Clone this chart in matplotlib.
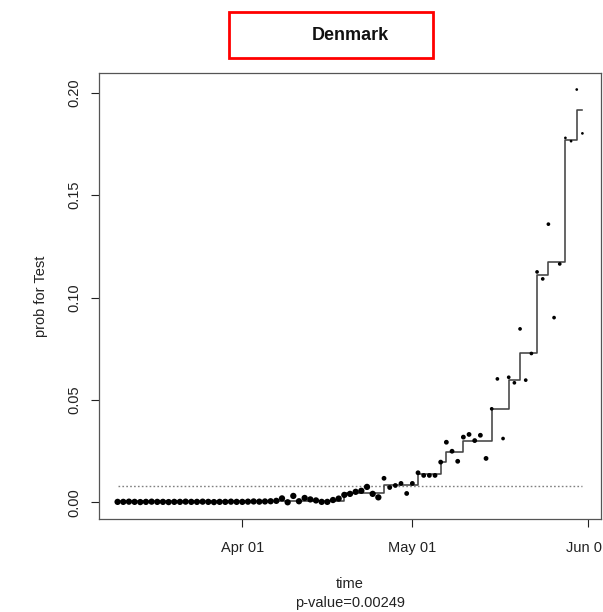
import numpy as np
import matplotlib
matplotlib.use('Agg')
import matplotlib.dates as mdates
from matplotlib import pyplot as plt
from matplotlib.patches import Rectangle

plt.rcParams['font.family'] = ['Liberation Sans', 'DejaVu Sans']

# daily observations, 2020-03-10 .. 2020-05-31
start_date = '2020-03-10'
prob = [
    0.0003, 0.0003, 0.0004, 0.0003, 0.0002, 0.0003, 0.0004, 0.0003, 0.0003, 0.0002,
    0.0003, 0.0003, 0.0004, 0.0003, 0.0003, 0.0004, 0.0003, 0.0002, 0.0003, 0.0003,
    0.0004, 0.0003, 0.0003, 0.0004, 0.0005, 0.0004, 0.0005, 0.0006, 0.0008, 0.0020,
    0.0001, 0.0032, 0.0006, 0.0022, 0.0015, 0.0010, 0.0003, 0.0003, 0.0012, 0.0019,
    0.0037, 0.0042, 0.0052, 0.0057, 0.0076, 0.0042, 0.0025, 0.0118, 0.0073, 0.0083,
    0.0093, 0.0044, 0.0093, 0.0145, 0.0132, 0.0132, 0.0132, 0.0197, 0.0294, 0.0250,
    0.0201, 0.0319, 0.0332, 0.0302, 0.0328, 0.0215, 0.0457, 0.0603, 0.0312, 0.0611,
    0.0584, 0.0847, 0.0597, 0.0727, 0.1125, 0.1091, 0.1358, 0.0902, 0.1164, 0.1779,
    0.1763, 0.2015, 0.1801,
]

# fitted monotone step curve: day index where each level starts, and the level
step_start = [0, 40, 47, 53, 57, 58, 61, 66, 69, 71, 74, 76, 79, 81]
step_level = [0.0008, 0.0047, 0.0086, 0.0137, 0.0197, 0.0245, 0.0300, 0.0457,
              0.0596, 0.0730, 0.1109, 0.1175, 0.1767, 0.1915]

baseline = 0.0078
p_value = '0.00249'

n = len(prob)
dates = np.arange(np.datetime64(start_date), np.datetime64(start_date) + n)
lengths = np.diff(step_start + [n])
fitted = np.repeat(step_level, lengths)

# point size shrinks over time (pixels diameter)
idx = np.arange(n)
sizes_px = np.where(idx < 47, 6.3, np.where(idx < 66, 4.8, np.where(idx < 79, 3.7, 2.7)))
s = (sizes_px * 0.72) ** 2

fig = plt.figure(figsize=(6.03, 6.12), dpi=100)
ax = fig.add_axes([99 / 603, 93 / 612, 502 / 603, 446 / 612])

ax.plot(dates, fitted, drawstyle='steps-post', color='#444444', lw=1.15, zorder=2)
ax.plot([dates[0], dates[-1]], [baseline, baseline], ls=(0, (1.2, 1.6)), color='#808080', lw=1.0, zorder=1)
ax.scatter(dates, prob, s=s, color='black', zorder=3, linewidths=0)

# R-style 4% padding of the data range
span = (n - 1) * 0.04
x0 = mdates.date2num(dates[0]) - span
x1 = mdates.date2num(dates[-1]) + span
ax.set_xlim(x0, x1)
yr = max(prob) - 0.0
ax.set_ylim(0 - 0.04 * yr, max(prob) + 0.04 * yr)

ax.set_xticks(mdates.date2num(np.array(['2020-04-01', '2020-05-01', '2020-06-01'], dtype='datetime64[D]')))
ax.set_xticklabels(['Apr 01', 'May 01', 'Jun 01'])
ax.set_yticks([0.0, 0.05, 0.10, 0.15, 0.20])
ax.set_yticklabels(['0.00', '0.05', '0.10', '0.15', '0.20'], rotation=90, va='center')
ax.tick_params(axis='both', length=6, width=0.8, labelsize=10.5, colors='#222222')
ax.tick_params(axis='x', pad=10)
ax.tick_params(axis='y', pad=7)
for sp in ax.spines.values():
    sp.set_color('#555555')
    sp.set_linewidth(0.9)

ax.set_ylabel('prob for Test', fontsize=10.5, color='#222222', labelpad=14)

fig.text(350 / 603, 1 - 584 / 612, 'time', ha='center', va='center', fontsize=10.5, color='#222222')
fig.text(350 / 603, 1 - 603 / 612, 'p-value=' + p_value, ha='center', va='center', fontsize=10.5, color='#222222')

# title with red frame
fig.patches.append(Rectangle((229 / 603, 1 - 58 / 612), 204 / 603, 46 / 612,
                             transform=fig.transFigure, fill=False, edgecolor='red', lw=2.0))
fig.text(350 / 603, 1 - 36 / 612, 'Denmark', ha='center', va='center', fontsize=13,
         fontweight='bold', color='#111111')

fig.savefig('out.png', dpi=100)
